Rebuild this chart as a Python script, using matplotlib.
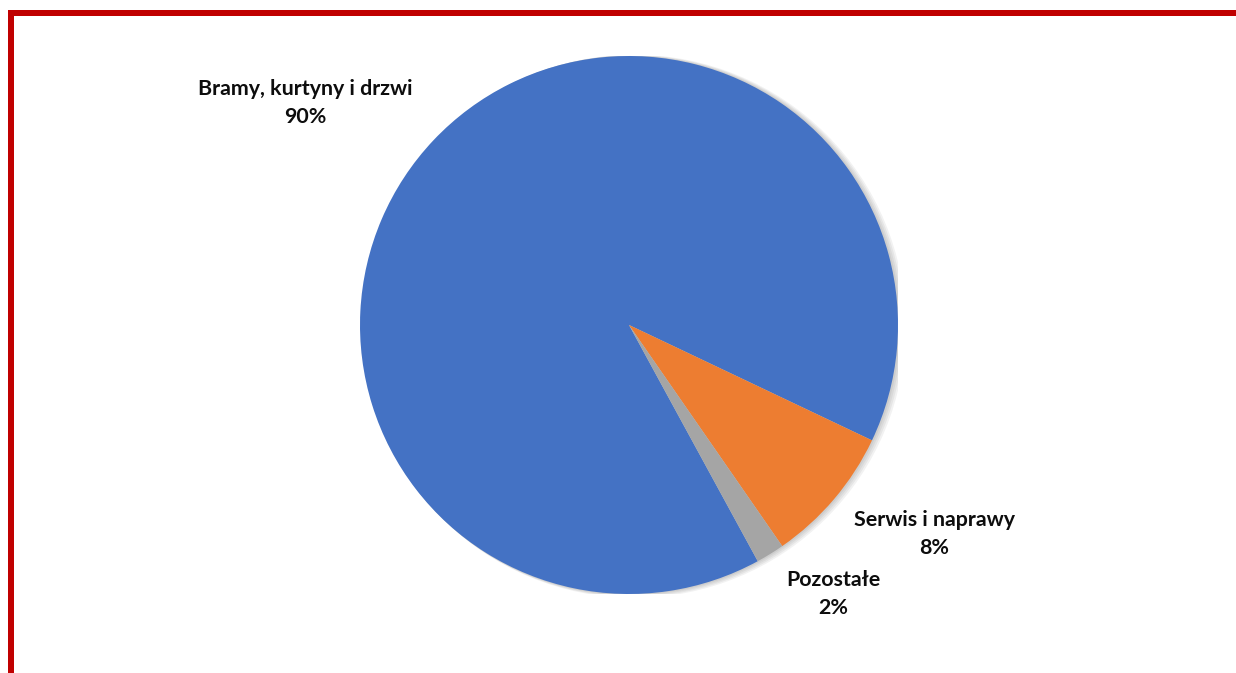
import matplotlib
matplotlib.use("Agg")
import matplotlib.pyplot as plt
from matplotlib.patches import Rectangle, Circle

categories = ["Bramy, kurtyny i drzwi", "Serwis i naprawy", "Pozostałe"]
values = [90.0, 8.3, 1.7]
colors = ["#4472C4", "#ED7D31", "#A5A5A5"]

W, H = 1236, 673
fig = plt.figure(figsize=(W / 100, H / 100), dpi=100)
fig.patch.set_facecolor("white")

# red frame (top & left visible)
red = "#C00000"
fig.add_artist(Rectangle((8 / W, 0), 6 / W, (H - 10) / H, transform=fig.transFigure,
                         facecolor=red, edgecolor="none"))
fig.add_artist(Rectangle((8 / W, (H - 16) / H), (W - 8) / W, 6 / H, transform=fig.transFigure,
                         facecolor=red, edgecolor="none"))

cx, cy, r = 629, 325, 269
ax = fig.add_axes([(cx - r) / W, (H - cy - r) / H, 2 * r / W, 2 * r / H])
ax.set_xlim(-1, 1)
ax.set_ylim(-1, 1)
ax.set_aspect("equal")
ax.axis("off")

# soft shadow
for i, a in enumerate([0.05, 0.05, 0.05, 0.05]):
    off = 0.004 * (i + 1)
    ax.add_patch(Circle((off * 1.2, -off * 0.3), 1.0 + off * 0.6, facecolor="black",
                        edgecolor="none", alpha=a, zorder=0))

wedges, _ = ax.pie(values, colors=colors, startangle=-61.4, counterclock=False,
                   radius=1.0, center=(0, 0), frame=True,
                   wedgeprops=dict(edgecolor="none", linewidth=0))
for w in wedges:
    w.set_zorder(2)
ax.set_xlim(-1, 1)
ax.set_ylim(-1, 1)
ax.axis("off")

label_pos = [(305, 103), (934, 534), (833, 594)]
for cat, v, (px, py) in zip(categories, values, label_pos):
    fig.text(px / W, 1 - py / H, f"{cat}\n{v:.0f}%", ha="center", va="center",
             fontsize=15.4, fontweight="bold", family=["Lato", "DejaVu Sans"],
             color="#0d0d0d", linespacing=1.5)

fig.savefig("out.png", dpi=100, facecolor="white")
